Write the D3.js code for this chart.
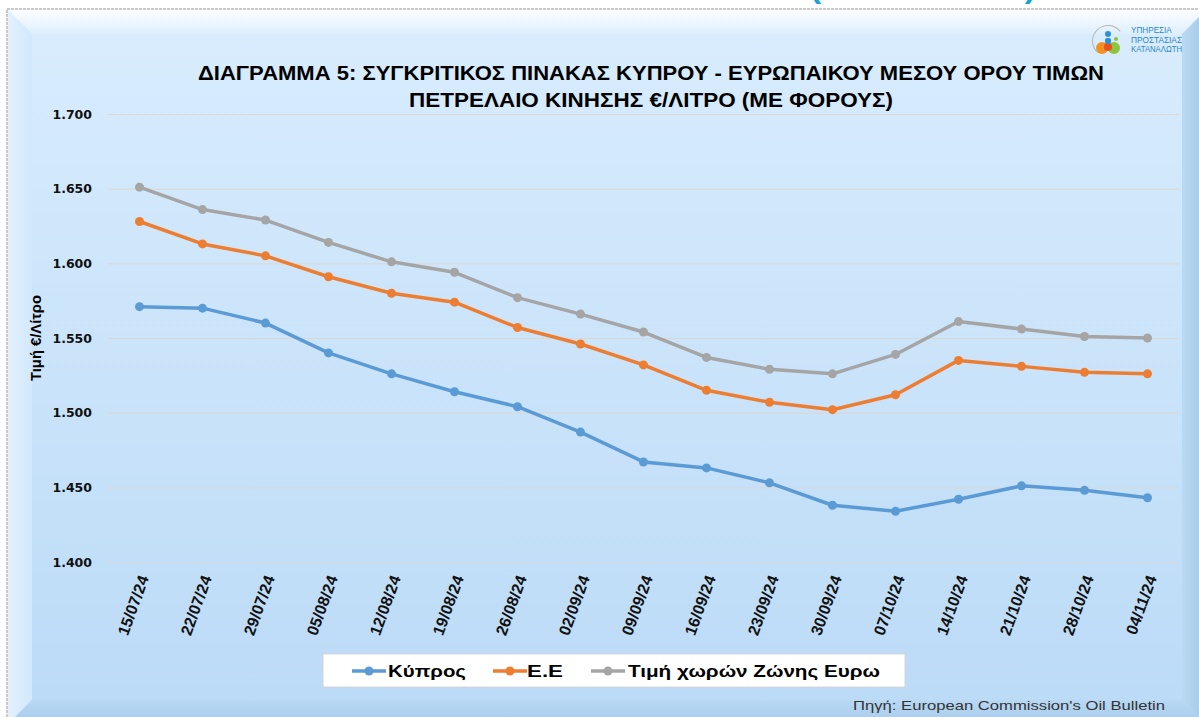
<!DOCTYPE html>
<html>
<head>
<meta charset="utf-8">
<script src="https://cdn.jsdelivr.net/npm/d3@7"></script>
<style>
  html, body { margin: 0; padding: 0; background: #ffffff; }
  svg { display: block; }
</style>
</head>
<body>
<div class="container"></div>
<script>
// weekly dates (Oil Bulletin)
const dates = ["15/07/24", "22/07/24", "29/07/24", "05/08/24", "12/08/24", "19/08/24",
  "26/08/24", "02/09/24", "09/09/24", "16/09/24", "23/09/24", "30/09/24",
  "07/10/24", "14/10/24", "21/10/24", "28/10/24", "04/11/24"];

// diesel price €/litre, with taxes
const cyprus = [1.571, 1.570, 1.560, 1.540, 1.526, 1.514, 1.504, 1.487, 1.467, 1.463,
  1.453, 1.438, 1.434, 1.442, 1.451, 1.448, 1.443];
const eu = [1.628, 1.613, 1.605, 1.591, 1.580, 1.574, 1.557, 1.546, 1.532, 1.515,
  1.507, 1.502, 1.512, 1.535, 1.531, 1.527, 1.526];
const euroZone = [1.651, 1.636, 1.629, 1.614, 1.601, 1.594, 1.577, 1.566, 1.554, 1.537,
  1.529, 1.526, 1.539, 1.561, 1.556, 1.551, 1.550];

const seriesNames = ["Κύπρος", "Ε.Ε", "Τιμή χωρών Ζώνης Ευρω"];
const seriesColors = ["#5b9bd5", "#ed7d31", "#a5a5a5"];
const yTicks = [1.4, 1.45, 1.5, 1.55, 1.6, 1.65, 1.7];

const width = 1199, height = 717;

const svg = d3.select('.container')
  .append('svg')
  .attr('width', width)
  .attr('height', height);

const defs = svg.append('defs');

function vGrad(id, stops) {
  const g = defs.append('linearGradient').attr('id', id)
    .attr('x1', 0).attr('y1', 0).attr('x2', 0).attr('y2', 1);
  stops.forEach(s => g.append('stop').attr('offset', s[0]).attr('stop-color', s[1]));
}
function hGrad(id, stops) {
  const g = defs.append('linearGradient').attr('id', id)
    .attr('x1', 0).attr('y1', 0).attr('x2', 1).attr('y2', 0);
  stops.forEach(s => g.append('stop').attr('offset', s[0]).attr('stop-color', s[1]));
}
vGrad('face', [[0, '#d8ecfd'], [1, '#bcdbf7']]);
vGrad('bevTop', [[0, '#fbfdff'], [1, '#deeffd']]);
hGrad('bevLeft', [[0, '#e2f1fe'], [1, '#d2e8fc']]);
hGrad('bevRight', [[0, '#bad9f4'], [1, '#a4c7e6']]);
vGrad('bevBottom', [[0, '#b8d8f4'], [1, '#a9cbea']]);

// bevelled background box
const bx0 = 8, by0 = 10, bx1 = 1206, by1 = 724, bw = 24;
svg.append('rect')
  .attr('x', bx0).attr('y', by0).attr('width', bx1 - bx0).attr('height', by1 - by0)
  .attr('fill', 'url(#face)');
const bevels = [
  ['bevTop', [[bx0, by0], [bx1, by0], [bx1 - bw, by0 + bw], [bx0 + bw, by0 + bw]]],
  ['bevLeft', [[bx0, by0], [bx0 + bw, by0 + bw], [bx0 + bw, by1 - bw], [bx0, by1]]],
  ['bevRight', [[bx1, by0], [bx1, by1], [bx1 - bw, by1 - bw], [bx1 - bw, by0 + bw]]],
  ['bevBottom', [[bx0, by1], [bx0 + bw, by1 - bw], [bx1 - bw, by1 - bw], [bx1, by1]]]
];
svg.selectAll('polygon.bevel')
  .data(bevels)
  .enter()
  .append('polygon')
  .attr('class', 'bevel')
  .attr('points', d => d[1].map(p => p.join(',')).join(' '))
  .attr('fill', d => 'url(#' + d[0] + ')');
svg.append('rect')
  .attr('x', bx0 + bw).attr('y', by0 + bw)
  .attr('width', bx1 - bx0 - 2 * bw).attr('height', by1 - by0 - 2 * bw)
  .attr('fill', 'url(#face)');
svg.append('path')
  .attr('d', `M${bx0 - 1},${height} V${by0 - 1} H${width}`)
  .attr('fill', 'none')
  .attr('stroke', '#c9c9c9')
  .attr('stroke-width', 2)
  .attr('stroke-dasharray', '3,1');

// heading of the page above, cut off at the top (as in the source image)
svg.append('text')
  .attr('x', 923).attr('y', -2)
  .attr('text-anchor', 'middle')
  .attr('font-family', 'Liberation Sans, Arial, sans-serif')
  .attr('font-weight', 'bold')
  .attr('font-size', 30)
  .attr('fill', '#1ba1d6')
  .attr('textLength', 226)
  .attr('lengthAdjust', 'spacingAndGlyphs')
  .text('(ΜΕ ΦΟΡΟΥΣ)');

// logo
const logo = svg.append('g').attr('transform', 'translate(1108,41)');
logo.append('path')
  .attr('d', d3.arc()({innerRadius: 15, outerRadius: 16, startAngle: -2.4, endAngle: 0.9}))
  .attr('fill', '#b5b5b5');
logo.append('circle').attr('cx', -6).attr('cy', 7).attr('r', 6).attr('fill', '#f29021');
logo.append('circle').attr('cx', 6).attr('cy', 7).attr('r', 6).attr('fill', '#8cc63f');
logo.append('circle').attr('cx', 0).attr('cy', 6).attr('r', 4).attr('fill', '#e8501e');
logo.append('circle').attr('cx', 0).attr('cy', -7).attr('r', 3).attr('fill', '#2f8fd6');
logo.append('rect').attr('x', -3).attr('y', -3).attr('width', 6).attr('height', 6).attr('rx', 2).attr('fill', '#2f8fd6');
logo.append('circle').attr('cx', 8).attr('cy', -2).attr('r', 2).attr('fill', '#8cc63f');
svg.selectAll('text.logo')
  .data(['ΥΠΗΡΕΣΙΑ', 'ΠΡΟΣΤΑΣΙΑΣ', 'ΚΑΤΑΝΑΛΩΤΗ'])
  .enter()
  .append('text')
  .attr('class', 'logo')
  .attr('x', 1131)
  .attr('y', (d, i) => 33 + i * 9.5)
  .attr('font-family', 'Liberation Sans, Arial, sans-serif')
  .attr('font-size', 9.5)
  .attr('fill', '#2a86c8')
  .attr('textLength', d => d.length * 5.1)
  .attr('lengthAdjust', 'spacingAndGlyphs')
  .text(d => d);

// title
const titleLines = [
  ['ΔΙΑΓΡΑΜΜΑ 5: ΣΥΓΚΡΙΤΙΚΟΣ ΠΙΝΑΚΑΣ ΚΥΠΡΟΥ - ΕΥΡΩΠΑΙΚΟΥ ΜΕΣΟΥ ΟΡΟΥ ΤΙΜΩΝ', 906],
  ['ΠΕΤΡΕΛΑΙΟ ΚΙΝΗΣΗΣ €/ΛΙΤΡΟ (ΜΕ ΦΟΡΟΥΣ)', 484]
];
svg.selectAll('text.title')
  .data(titleLines)
  .enter()
  .append('text')
  .attr('class', 'title')
  .attr('x', 651)
  .attr('y', (d, i) => 80 + i * 27)
  .attr('text-anchor', 'middle')
  .attr('font-family', 'Liberation Sans, Arial, sans-serif')
  .attr('font-weight', 'bold')
  .attr('font-size', 19.5)
  .attr('fill', '#000')
  .attr('textLength', d => d[1])
  .attr('lengthAdjust', 'spacingAndGlyphs')
  .text(d => d[0]);

// scales
const x = d3.scalePoint()
  .domain(dates)
  .range([108, 1179])
  .padding(0.5);
const y = d3.scaleLinear()
  .domain([1.4, 1.7])
  .range([562, 114]);

// gridlines + y labels
const yAxis = d3.axisLeft(y)
  .tickValues(yTicks)
  .tickSize(-(1179 - 108))
  .tickPadding(16)
  .tickFormat(d3.format('.3f'));
const gy = svg.append('g')
  .attr('transform', 'translate(108,0)')
  .call(yAxis);
gy.select('.domain').remove();
gy.selectAll('.tick line').attr('stroke', '#d9d9d9').attr('stroke-width', 1.2);
gy.selectAll('.tick text')
  .attr('font-family', 'DejaVu Sans, Verdana, sans-serif')
  .attr('font-weight', 'bold')
  .attr('font-size', 12.5)
  .attr('fill', '#111');

svg.append('text')
  .attr('transform', 'translate(41,338) rotate(-90)')
  .attr('text-anchor', 'middle')
  .attr('font-family', 'Liberation Sans, Arial, sans-serif')
  .attr('font-weight', 'bold')
  .attr('font-size', 14)
  .attr('textLength', 86)
  .attr('lengthAdjust', 'spacingAndGlyphs')
  .text('Τιμή €/Λίτρο');

// x labels
const xAxis = d3.axisBottom(x).tickSize(0).tickPadding(0);
const gx = svg.append('g')
  .attr('transform', 'translate(0,562)')
  .call(xAxis);
gx.select('.domain').remove();
gx.selectAll('.tick text')
  .attr('font-family', 'Liberation Sans, Arial, sans-serif')
  .attr('font-weight', 'bold')
  .attr('font-size', 16)
  .attr('fill', '#111')
  .attr('text-anchor', 'end')
  .attr('dy', 0)
  .attr('y', 0)
  .attr('transform', 'translate(9,16) rotate(-70)');

// series
const seriesData = [cyprus, eu, euroZone];
const line = d3.line()
  .x((d, i) => x(dates[i]))
  .y(d => y(d));

const gs = svg.selectAll('g.series')
  .data(seriesData)
  .enter()
  .append('g')
  .attr('class', 'series');
gs.append('path')
  .attr('d', d => line(d))
  .attr('fill', 'none')
  .attr('stroke', (d, i) => seriesColors[i])
  .attr('stroke-width', 3.5)
  .attr('stroke-linejoin', 'round');
gs.each(function (d, si) {
  d3.select(this).selectAll('circle')
    .data(d)
    .enter()
    .append('circle')
    .attr('cx', (v, i) => x(dates[i]))
    .attr('cy', v => y(v))
    .attr('r', 4.5)
    .attr('fill', seriesColors[si]);
});

// legend
const legend = svg.append('g');
legend.append('rect')
  .attr('x', 323).attr('y', 654).attr('width', 582).attr('height', 33)
  .attr('fill', '#ffffff')
  .attr('stroke', '#d0d0d0')
  .attr('stroke-width', 0.8);
const legendItems = [
  {x0: 352, tx: 388, len: 78},
  {x0: 493, tx: 527, len: 36},
  {x0: 591, tx: 628, len: 252}
];
legendItems.forEach((it, i) => {
  legend.append('line')
    .attr('x1', it.x0).attr('x2', it.x0 + 34)
    .attr('y1', 671).attr('y2', 671)
    .attr('stroke', seriesColors[i])
    .attr('stroke-width', 3.5);
  legend.append('circle')
    .attr('cx', it.x0 + 17).attr('cy', 671).attr('r', 4.5)
    .attr('fill', seriesColors[i]);
  legend.append('text')
    .attr('x', it.tx).attr('y', 677)
    .attr('font-family', 'Liberation Sans, Arial, sans-serif')
    .attr('font-weight', 'bold')
    .attr('font-size', 17)
    .attr('fill', '#000')
    .attr('textLength', it.len)
    .attr('lengthAdjust', 'spacingAndGlyphs')
    .text(seriesNames[i]);
});

// source
svg.append('text')
  .attr('x', 853).attr('y', 710)
  .attr('font-family', 'Liberation Sans, Arial, sans-serif')
  .attr('font-size', 13)
  .attr('fill', '#333')
  .attr('textLength', 312)
  .attr('lengthAdjust', 'spacingAndGlyphs')
  .text("Πηγή: European Commission's Oil Bulletin");
</script>
</body>
</html>
